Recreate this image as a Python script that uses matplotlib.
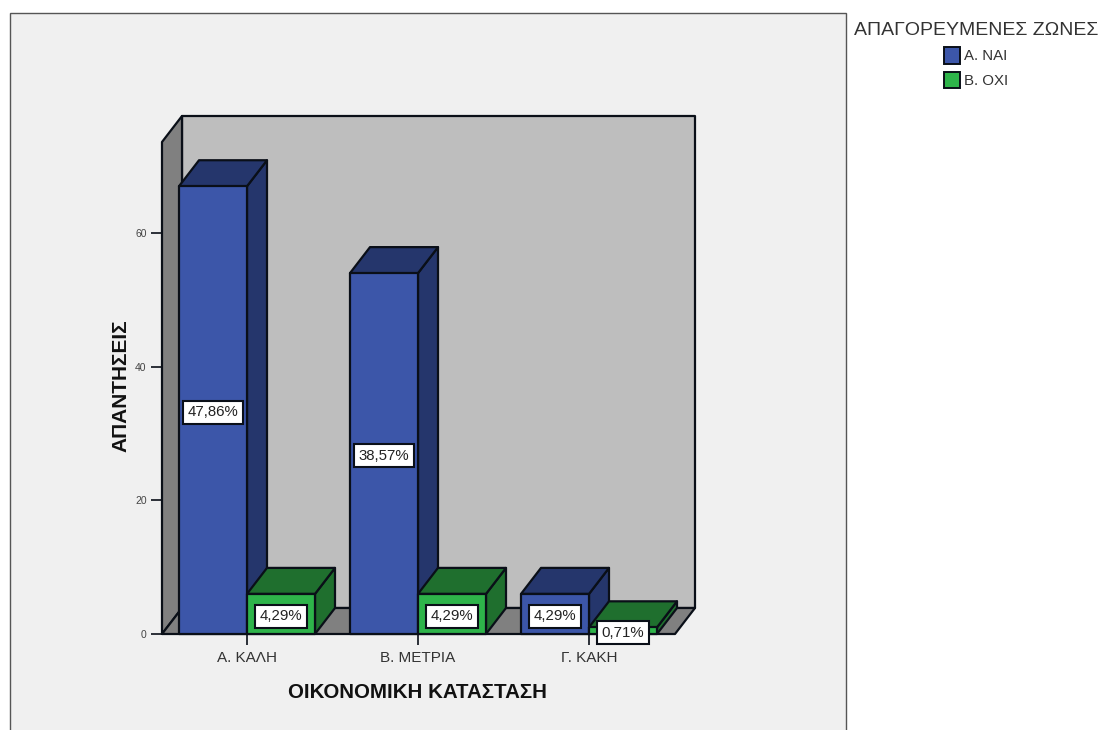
import numpy as np
from matplotlib import pyplot as plt
from matplotlib.patches import Patch, Polygon, Rectangle

plt.rcParams['font.family'] = ['Liberation Sans', 'DejaVu Sans']

categories = ['Α. ΚΑΛΗ', 'Β. ΜΕΤΡΙΑ', 'Γ. ΚΑΚΗ']
nai_values = [67, 54, 6]
oxi_values = [6, 6, 1]
nai_labels = ['47,86%', '38,57%', '4,29%']
oxi_labels = ['4,29%', '4,29%', '0,71%']
y_ticks = [0, 20, 40, 60]

W, H = 1100, 730
blue = ('#3c56a9', '#25366c')
green = ('#2eb44a', '#1f6f2e')
edge = '#0a0f18'

# depth of the fake 3d look, in data units (171 px per category, 6.683 px per count)
DX = 20 / 171
DY = 26 / 6.683
BAR = 68 / 171
X0, X1 = (162 - 247) / 171, (675 - 247) / 171
YTOP = (634 - 142) / 6.683

fig = plt.figure(figsize=(W / 100, H / 100), dpi=100, facecolor='white')
fig.add_artist(Rectangle((10 / W, -0.01), 836 / W, (717 + 7.3) / H, transform=fig.transFigure,
                         facecolor='#f0f0f0', edgecolor='#555555', lw=1, zorder=-1))

ax = fig.add_axes([162 / W, (H - 634) / H, (675 - 162) / W, (634 - 142) / H])
ax.set_xlim(X0, X1)
ax.set_ylim(0, YTOP)
ax.patch.set_visible(False)
for s in ax.spines.values():
    s.set_visible(False)


def poly(pts, color, z):
    ax.add_patch(Polygon(pts, closed=True, facecolor=color, edgecolor=edge, lw=1.6,
                         joinstyle='round', clip_on=False, zorder=z))


# walls and floor
poly([(X0 + DX, DY), (X1 + DX, DY), (X1 + DX, YTOP + DY), (X0 + DX, YTOP + DY)], '#bebebe', 1)
poly([(X0, 0), (X0 + DX, DY), (X0 + DX, YTOP + DY), (X0, YTOP)], '#808080', 1.1)
poly([(X0, 0), (X1, 0), (X1 + DX, DY), (X0 + DX, DY)], '#808080', 1.2)


def bar3d(x, h, colors, z):
    front, dark = colors
    poly([(x + BAR, 0), (x + BAR + DX, DY), (x + BAR + DX, h + DY), (x + BAR, h)], dark, z)
    poly([(x, h), (x + BAR, h), (x + BAR + DX, h + DY), (x + DX, h + DY)], dark, z)
    poly([(x, 0), (x + BAR, 0), (x + BAR, h), (x, h)], front, z)


def box_label(x, h, txt, z):
    ax.annotate(txt, (x + BAR / 2, h / 2), xytext=(0, -1.5), textcoords='offset points',
                ha='center', va='center', fontsize=10.8, color='#222222',
                zorder=z, annotation_clip=False,
                bbox=dict(boxstyle='square,pad=0.3', facecolor='white', edgecolor=edge, lw=1.5))


for i in range(len(categories)):
    bar3d(i - BAR, nai_values[i], blue, 3 + i)
    bar3d(i, oxi_values[i], green, 3 + i + 0.5)
for i in range(len(categories)):
    box_label(i - BAR, nai_values[i], nai_labels[i], 10)
    box_label(i, oxi_values[i], oxi_labels[i], 10)

ax.set_xticks(np.arange(len(categories)))
ax.set_xticklabels(categories, fontsize=11, color='#333333', ha='center')
ax.set_yticks(y_ticks)
ax.tick_params(axis='x', length=8, width=1.2, pad=4, color=edge)
ax.tick_params(axis='y', length=8, width=1.2, pad=3, labelsize=7.5, color=edge, labelcolor='#444444')

ax.set_xlabel('ΟΙΚΟΝΟΜΙΚΗ ΚΑΤΑΣΤΑΣΗ', fontsize=14.8, fontweight='bold', color='#111111')
ax.xaxis.set_label_coords((417 - 162) / 513, (634 - 692) / 492, transform=ax.transAxes)
ax.xaxis.label.set_va('center')
ax.set_ylabel('ΑΠΑΝΤΗΣΕΙΣ', fontsize=15, fontweight='bold', color='#111111')
ax.yaxis.set_label_coords((121 - 162) / 513, (634 - 386) / 492, transform=ax.transAxes)
ax.yaxis.label.set_va('center')

handles = [Patch(facecolor=blue[0], edgecolor=edge, lw=1.4),
           Patch(facecolor=green[0], edgecolor=edge, lw=1.4)]
leg = fig.legend(handles, ['Α. ΝΑΙ', 'Β. ΟΧΙ'], title='ΑΠΑΓΟΡΕΥΜΕΝΕΣ ΖΩΝΕΣ', frameon=False,
                 loc='upper center', bbox_to_anchor=(976 / W, 1 - 22 / H), borderaxespad=0, borderpad=0,
                 fontsize=10.8, title_fontsize=14, handlelength=1.1, handleheight=1.3,
                 handletextpad=0.25, labelspacing=0.55, labelcolor='#333333')
leg.get_title().set_color('#333333')

fig.savefig('out.png', dpi=100)
